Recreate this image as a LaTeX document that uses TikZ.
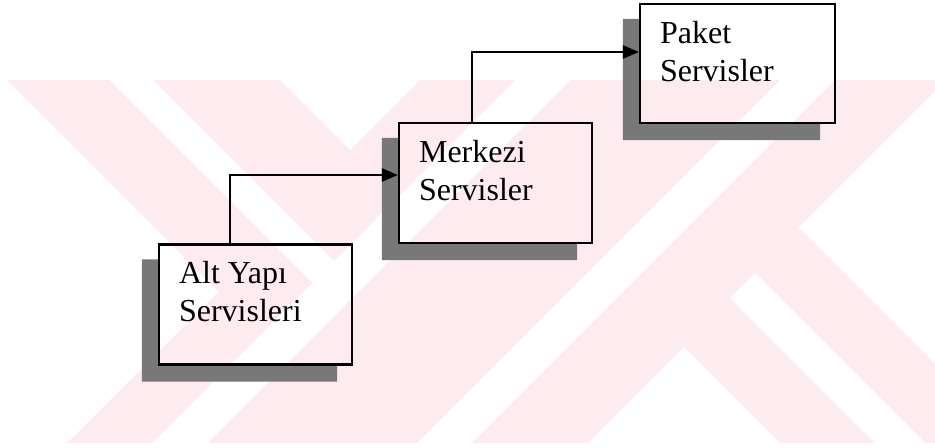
\documentclass[tikz,border=0pt]{standalone}
\usepackage{fontspec}
\setmainfont{Liberation Serif}
\usetikzlibrary{arrows.meta,calc,backgrounds}

\definecolor{wmpink}{RGB}{253,235,239}
\definecolor{shadegray}{gray}{0.47}

\tikzset{
    srvbox/.style={draw, line width=1.8pt, rectangle, minimum width=144.75pt, minimum height=90pt, inner sep=0pt},
    srvtext/.style={anchor=north west, align=left, inner sep=0pt, font=\fontsize{24pt}{28.3pt}\selectfont},
    link/.style={line width=1.3pt, -{Triangle[length=12pt,width=10pt]}}
}

\begin{document}
\begin{tikzpicture}[x=0.75pt,y=-0.75pt]
    \useasboundingbox (0,0) rectangle (935,447);

    \node[srvbox] (alt) at (255.5,304.5) {};
    \node[srvbox] (merkezi) at (495.5,183) {};
    \node[srvbox, minimum width=146.25pt, minimum height=89.25pt] (paket) at (737.5,63.5) {};

    \node[srvtext] (alttext) at ($(alt.north west)+(21,18)$) {Alt Yapı\\Servisleri};
    \node[srvtext] (merkezitext) at ($(merkezi.north west)+(21,18)$) {Merkezi\\Servisler};
    \node[srvtext] (pakettext) at ($(paket.north west)+(21,18)$) {Paket\\Servisler};

    \draw[link] ($(alt.north)+(-25.5,0)$) |- ($(merkezi.west)+(0,-8)$);
    \draw[link] ($(merkezi.north)+(-23.5,0)$) |- ($(paket.west)+(0,-11.5)$);

    \begin{scope}[on background layer]
        % watermark stripes
        \fill[wmpink] (0,80) rectangle (935,443);
        \fill[white] (0,80) -- (7,80) -- (218.5,291.5) -- (67,443) -- (0,443) -- cycle;
        \fill[white] (110,80) -- (153,80) -- (334,261) -- (312.5,282.5) -- cycle;
        \fill[white] (280,80) -- (420,80) -- (350,150) -- cycle;
        \fill[white] (515,80) -- (570,80) -- (207,443) -- (152,443) -- cycle;
        \fill[white] (780,80) -- (835,80) -- (472,443) -- (417,443) -- cycle;
        \fill[white] (935,91) -- (798.5,227.5) -- (935,364) -- cycle;
        \fill[white] (730,298) -- (755,273) -- (925,443) -- (875,443) -- cycle;
        \fill[white] (588,443) -- (684,347) -- (780,443) -- cycle;

        % box shadows
        \foreach \b in {alt,merkezi,paket}
            \fill[shadegray] ($(\b.north west)+(-16,16)$) -- ($(\b.north west)+(0,16)$) -- (\b.south west)
                -- ($(\b.south east)+(-16,0)$) -- ($(\b.south east)+(-16,16)$) -- ($(\b.south west)+(-16,16)$) -- cycle;
    \end{scope}
\end{tikzpicture}
\end{document}
